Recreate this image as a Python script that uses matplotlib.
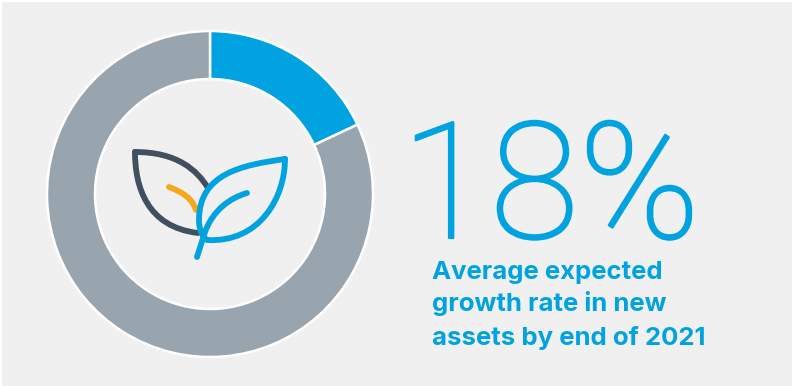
import matplotlib
matplotlib.use('Agg')
import matplotlib.pyplot as plt
import matplotlib.patches as patches
import matplotlib.patheffects as pe
from matplotlib.path import Path

shares = [18, 82]
share_colors = ['#00a3e0', '#98a4ae']
headline = '18%'
caption_lines = ['Average expected', 'growth rate in new', 'assets by end of 2021']

BLUE = '#00a3e0'
SLATE = '#41505f'
AMBER = '#f5a81c'
PANEL = '#f0f0f0'

fig = plt.figure(figsize=(7.92, 3.86), dpi=100, facecolor='white')
# axes in pixel units, y pointing down
ax = fig.add_axes([0, 0, 1, 1])
ax.set_xlim(0, 792)
ax.set_ylim(386, 0)
ax.axis('off')

ax.add_patch(patches.Rectangle((2, 2), 790, 384, facecolor=PANEL, edgecolor='none', zorder=0))

# y axis is flipped, so the wedges run the other way round here
ax.pie(shares, colors=share_colors, startangle=-90, counterclock=True,
       center=(210, 194), radius=163, frame=True,
       wedgeprops=dict(width=48, edgecolor='white', linewidth=1.8))
ax.set_xlim(0, 792)
ax.set_ylim(386, 0)
ax.set_aspect('auto')
ax.axis('off')


def stroke(verts, codes, color, z):
    ax.add_patch(patches.PathPatch(Path(verts, codes), facecolor='none', edgecolor=color,
                                   linewidth=4.2, capstyle='round', joinstyle='round', zorder=z))


C4 = Path.CURVE4
# back leaf
stroke([(135, 152), (177, 152), (197, 170), (208, 188)], [Path.MOVETO, C4, C4, C4], SLATE, 5)
stroke([(135, 152), (135, 187), (147, 227), (198, 233)], [Path.MOVETO, C4, C4, C4], SLATE, 5)
# back leaf vein
stroke([(169, 187), (182, 192), (192, 198), (196, 210)], [Path.MOVETO, C4, C4, C4], AMBER, 5)
# front leaf outline
stroke([(285, 159), (243, 165), (199, 173), (199, 220), (199, 232), (204, 238), (207, 240),
        (260, 243), (285, 197), (285, 159)],
       [Path.MOVETO, C4, C4, C4, C4, C4, C4, C4, C4, C4], BLUE, 6)
# stem and front vein
stroke([(197, 257), (205, 232), (213, 210), (230, 198), (247, 193)],
       [Path.MOVETO, Path.LINETO, C4, C4, C4], BLUE, 6)

# light weight is a little thin at this size, so fatten the outline
big = ax.text(401, 238, headline, color=BLUE, fontsize=117, family='Roboto', fontweight='light',
              ha='left', va='baseline', zorder=6)
big.set_path_effects([pe.withStroke(linewidth=1.6, foreground=BLUE)])

for line, y in zip(caption_lines, [279, 311, 345]):
    ax.text(432, y, line, color=BLUE, fontsize=18.5, family='Inter', fontweight='bold',
            ha='left', va='baseline', zorder=6)

plt.savefig('out.png', dpi=100)
